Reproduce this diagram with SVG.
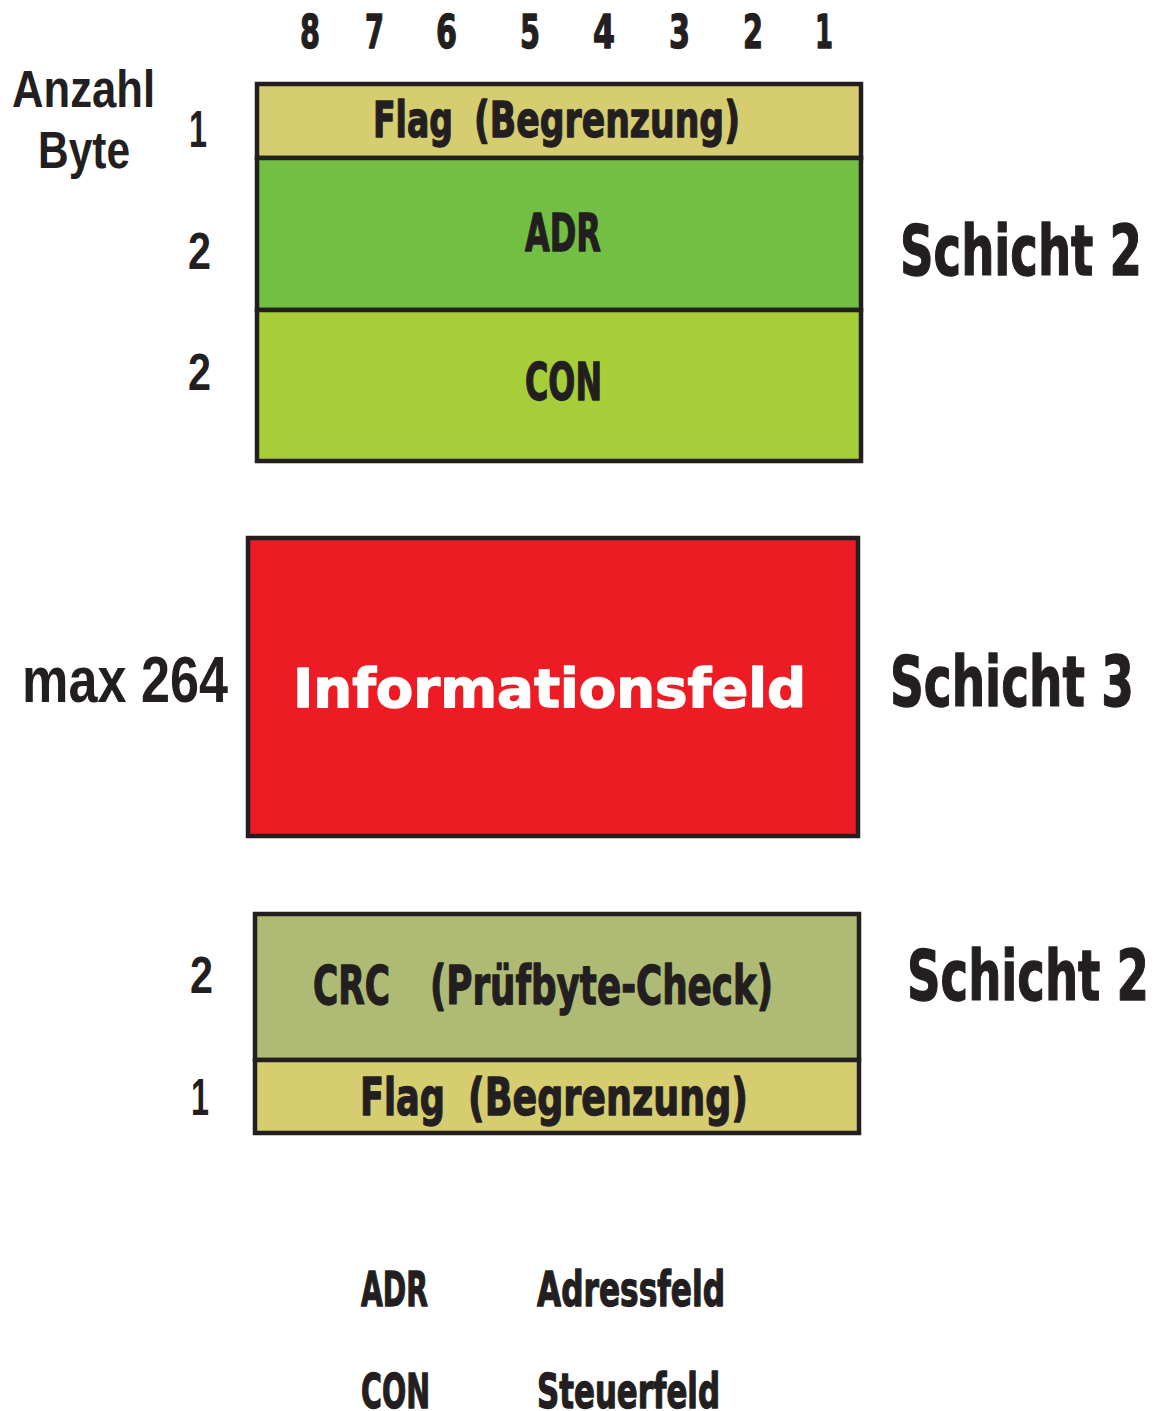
<svg xmlns="http://www.w3.org/2000/svg" width="1156" height="1411" viewBox="0 0 1156 1411">
<style>
.box{stroke:#231f20;stroke-width:4.5}
.imp{font-family:"DejaVu Sans",sans-serif;font-weight:bold;fill:#231f20;stroke:#231f20;stroke-width:1.4;stroke-linejoin:round}
.hel{font-family:"Liberation Sans",Arial,sans-serif;font-weight:bold;fill:#231f20}
.flag{fill:#d6cd70}
.white{fill:#ffffff;stroke:#ffffff}
</style>
<rect width="1156" height="1411" fill="#ffffff"/>
<g id="bit-numbers" class="imp" font-size="46">
<text x="300" y="48" textLength="20" lengthAdjust="spacingAndGlyphs">8</text>
<text x="365" y="48" textLength="19" lengthAdjust="spacingAndGlyphs">7</text>
<text x="436" y="48" textLength="21" lengthAdjust="spacingAndGlyphs">6</text>
<text x="520" y="48" textLength="20" lengthAdjust="spacingAndGlyphs">5</text>
<text x="593" y="48" textLength="22" lengthAdjust="spacingAndGlyphs">4</text>
<text x="669" y="48" textLength="21" lengthAdjust="spacingAndGlyphs">3</text>
<text x="743" y="48" textLength="20" lengthAdjust="spacingAndGlyphs">2</text>
<text x="815" y="48" textLength="18" lengthAdjust="spacingAndGlyphs">1</text>
</g>
<g id="byte-labels" class="hel" font-size="51">
<text x="12" y="107" textLength="143" lengthAdjust="spacingAndGlyphs">Anzahl</text>
<text x="38" y="168" textLength="92" lengthAdjust="spacingAndGlyphs">Byte</text>
<text x="189" y="147" textLength="18" lengthAdjust="spacingAndGlyphs">1</text>
<text x="188" y="269" textLength="23" lengthAdjust="spacingAndGlyphs">2</text>
<text x="188" y="390" textLength="23" lengthAdjust="spacingAndGlyphs">2</text>
<text x="22" y="702" font-size="65" textLength="206" lengthAdjust="spacingAndGlyphs">max 264</text>
<text x="190" y="993" textLength="23" lengthAdjust="spacingAndGlyphs">2</text>
<text x="191" y="1115" textLength="18" lengthAdjust="spacingAndGlyphs">1</text>
</g>
<g id="flag-top">
<rect class="box flag" x="257" y="84" width="604" height="74"/>
<text class="imp" font-size="50" y="137"><tspan x="373" textLength="80" lengthAdjust="spacingAndGlyphs">Flag</tspan><tspan x="474" textLength="266" lengthAdjust="spacingAndGlyphs">(Begrenzung)</tspan></text>
</g>
<g id="adr">
<rect class="box" fill="#72bf44" x="257" y="158" width="604" height="152"/>
<text class="imp" font-size="52" x="525" y="251" textLength="76" lengthAdjust="spacingAndGlyphs">ADR</text>
</g>
<g id="con">
<rect class="box" fill="#a6ce39" x="257" y="310" width="604" height="151"/>
<text class="imp" font-size="52" x="525" y="400" textLength="77" lengthAdjust="spacingAndGlyphs">CON</text>
</g>
<g id="info">
<rect class="box" fill="#ed1c24" x="248" y="538" width="610" height="298"/>
<text class="imp white" font-size="54" x="293" y="707" textLength="513" lengthAdjust="spacingAndGlyphs">Informationsfeld</text>
</g>
<g id="crc">
<rect class="box" fill="#afbb75" x="255" y="914" width="604" height="146"/>
<text class="imp" font-size="53" y="1004"><tspan x="313" textLength="77" lengthAdjust="spacingAndGlyphs">CRC</tspan><tspan x="430" textLength="343" lengthAdjust="spacingAndGlyphs">(Prüfbyte-Check)</tspan></text>
</g>
<g id="flag-bottom">
<rect class="box flag" x="255" y="1060" width="604" height="73"/>
<text class="imp" font-size="52" y="1115"><tspan x="360" textLength="85" lengthAdjust="spacingAndGlyphs">Flag</tspan><tspan x="468" textLength="280" lengthAdjust="spacingAndGlyphs">(Begrenzung)</tspan></text>
</g>
<g id="layers" class="imp" font-size="70">
<text x="900" y="275" textLength="242" lengthAdjust="spacingAndGlyphs">Schicht 2</text>
<text x="890" y="706" textLength="244" lengthAdjust="spacingAndGlyphs">Schicht 3</text>
<text x="907" y="1000" textLength="242" lengthAdjust="spacingAndGlyphs">Schicht 2</text>
</g>
<g id="legend" class="imp" font-size="48">
<text x="361" y="1306" textLength="67" lengthAdjust="spacingAndGlyphs">ADR</text>
<text x="537" y="1306" textLength="188" lengthAdjust="spacingAndGlyphs">Adressfeld</text>
<text x="361" y="1408" textLength="69" lengthAdjust="spacingAndGlyphs">CON</text>
<text x="537" y="1408" textLength="183" lengthAdjust="spacingAndGlyphs">Steuerfeld</text>
</g>
<g id="connectors"></g>
</svg>
